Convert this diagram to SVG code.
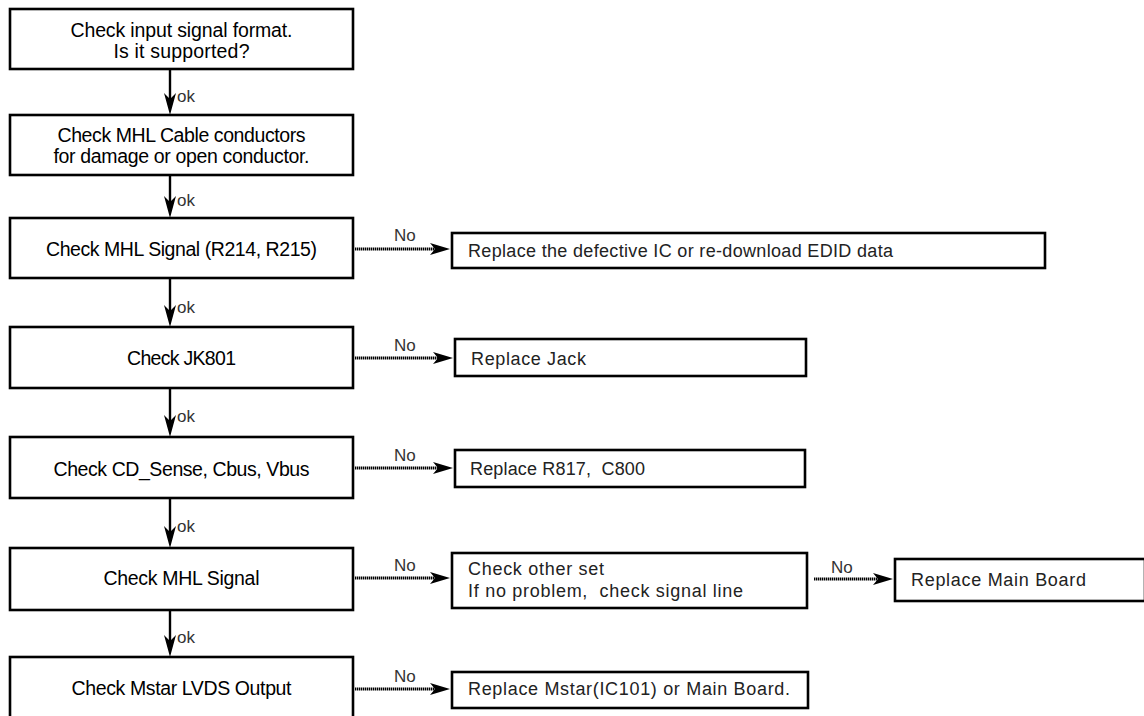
<svg xmlns="http://www.w3.org/2000/svg" width="1144" height="716" viewBox="0 0 1144 716">
<style>
.box{fill:#fff;stroke:#000;stroke-width:2.6}
.t{font-family:"Liberation Sans",Arial,sans-serif;font-size:19.5px;fill:#000;text-anchor:middle}
.r{font-family:"Liberation Sans",Arial,sans-serif;font-size:18px;fill:#222}
.lbl{font-family:"Liberation Sans",Arial,sans-serif;font-size:17px;fill:#333}
.ok{stroke:#000;stroke-width:2.4;fill:none}
.no{stroke:#000;stroke-width:2.8;fill:none;stroke-dasharray:1.4 0.6}
</style>
<defs>
<marker id="ah" viewBox="0 0 22 12" refX="14" refY="6" markerWidth="22" markerHeight="12" markerUnits="userSpaceOnUse" orient="auto">
<path d="M0,0 L22,6 L0,12 L6,6 Z" fill="#000"/>
</marker>
<marker id="ahd" viewBox="0 0 20 12" refX="12" refY="6" markerWidth="20" markerHeight="12" markerUnits="userSpaceOnUse" orient="auto">
<path d="M0,0 L20,6 L0,12 L5,6 Z" fill="#000"/>
</marker>
</defs>
<rect width="1144" height="716" fill="#fff"/>

<g id="n1"><rect class="box" x="10" y="9" width="343" height="60"/>
<text class="t" x="181.5" y="37" textLength="222">Check input signal format.</text>
<text class="t" x="181.5" y="58" textLength="136">Is it supported?</text></g>

<g id="n2"><rect class="box" x="10" y="115" width="343" height="60"/>
<text class="t" x="181.5" y="142" textLength="248">Check MHL Cable conductors</text>
<text class="t" x="181.5" y="163" textLength="256">for damage or open conductor.</text></g>

<g id="n3"><rect class="box" x="10" y="218" width="343" height="60"/>
<text class="t" x="181.5" y="256" textLength="271">Check MHL Signal (R214, R215)</text></g>

<g id="n4"><rect class="box" x="10" y="327" width="343" height="61"/>
<text class="t" x="181.5" y="365" textLength="109">Check JK801</text></g>

<g id="n5"><rect class="box" x="10" y="437" width="343" height="61"/>
<text class="t" x="181.5" y="476" textLength="256">Check CD_Sense, Cbus, Vbus</text></g>

<g id="n6"><rect class="box" x="10" y="548" width="343" height="62"/>
<text class="t" x="181.5" y="585" textLength="156">Check MHL Signal</text></g>

<g id="n7"><rect class="box" x="10" y="657" width="343" height="70"/>
<text class="t" x="181.5" y="695" textLength="220">Check Mstar LVDS Output</text></g>

<g id="r1"><rect class="box" x="452" y="233" width="593" height="35"/>
<text class="r" x="468" y="257" textLength="425">Replace the defective IC or re-download EDID data</text></g>

<g id="r2"><rect class="box" x="455" y="339" width="351" height="37"/>
<text class="r" x="471" y="365" textLength="115">Replace Jack</text></g>

<g id="r3"><rect class="box" x="455" y="450" width="350" height="37"/>
<text class="r" x="470" y="475" textLength="175" xml:space="preserve">Replace R817,  C800</text></g>

<g id="r4"><rect class="box" x="452" y="553" width="355" height="55"/>
<text class="r" x="468" y="575" textLength="136">Check other set</text>
<text class="r" x="468" y="597" textLength="275" xml:space="preserve">If no problem,  check signal line</text></g>

<g id="r5"><rect class="box" x="895" y="559" width="250" height="42"/>
<text class="r" x="911" y="586" textLength="175">Replace Main Board</text></g>

<g id="r6"><rect class="box" x="452" y="672" width="356" height="36"/>
<text class="r" x="468" y="695" textLength="322">Replace Mstar(IC101) or Main Board.</text></g>

<g id="connectors">
<line class="ok" x1="170" y1="70" x2="170" y2="107" marker-end="url(#ah)"/>
<line class="ok" x1="170" y1="176" x2="170" y2="210" marker-end="url(#ah)"/>
<line class="ok" x1="170" y1="279" x2="170" y2="319" marker-end="url(#ah)"/>
<line class="ok" x1="170" y1="389" x2="170" y2="429" marker-end="url(#ah)"/>
<line class="ok" x1="170" y1="499" x2="170" y2="540" marker-end="url(#ah)"/>
<line class="ok" x1="170" y1="611" x2="170" y2="649" marker-end="url(#ah)"/>
<text class="lbl" x="177" y="102">ok</text>
<text class="lbl" x="177" y="206">ok</text>
<text class="lbl" x="177" y="313">ok</text>
<text class="lbl" x="177" y="422">ok</text>
<text class="lbl" x="177" y="532">ok</text>
<text class="lbl" x="177" y="643">ok</text>

<line class="no" x1="355" y1="249" x2="442" y2="249" marker-end="url(#ahd)"/>
<line class="no" x1="355" y1="358" x2="445" y2="358" marker-end="url(#ahd)"/>
<line class="no" x1="355" y1="468" x2="445" y2="468" marker-end="url(#ahd)"/>
<line class="no" x1="355" y1="578" x2="442" y2="578" marker-end="url(#ahd)"/>
<line class="no" x1="814" y1="579" x2="885" y2="579" marker-end="url(#ahd)"/>
<line class="no" x1="355" y1="689" x2="442" y2="689" marker-end="url(#ahd)"/>
<text class="lbl" x="394" y="241">No</text>
<text class="lbl" x="394" y="351">No</text>
<text class="lbl" x="394" y="461">No</text>
<text class="lbl" x="394" y="571">No</text>
<text class="lbl" x="831" y="573">No</text>
<text class="lbl" x="394" y="682">No</text>
</g>
</svg>
